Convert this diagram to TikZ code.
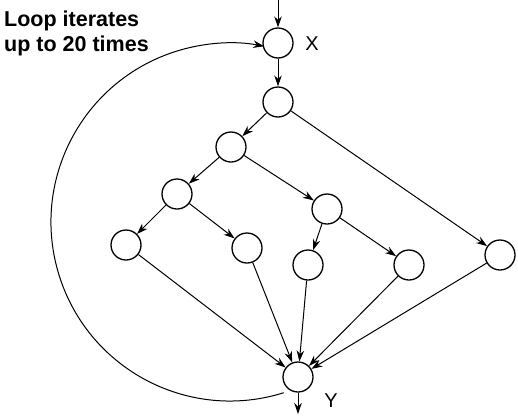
\documentclass[tikz,border=0pt]{standalone}
\usepackage{fontspec}
\setmainfont{Liberation Sans}
\usetikzlibrary{arrows.meta}
\begin{document}
\begin{tikzpicture}[x=1pt,y=-1pt,
  blk/.style={circle,draw,line width=1.3pt,minimum size=30pt,inner sep=0pt},
  edge/.style={line width=1pt,-{Stealth[length=11pt,width=7.5pt]}},
  lbl/.style={font=\fontsize{20}{24}\selectfont,inner sep=0pt},
  note/.style={font=\fontsize{21.5}{24}\selectfont\bfseries,inner sep=0pt,anchor=base west}]
\useasboundingbox (0,0) rectangle (518,418);
\node[blk] (X) at (278,43) {};
\node[blk] (n1) at (278,102) {};
\node[blk] (n2) at (231,147) {};
\node[blk] (n3) at (177,194) {};
\node[blk] (n4) at (327,209) {};
\node[blk] (n5) at (126,245) {};
\node[blk] (n6) at (247,248) {};
\node[blk] (n7) at (308,265) {};
\node[blk] (n8) at (409,265) {};
\node[blk] (n9) at (500,255) {};
\node[blk] (Y) at (298,377) {};
\node[lbl] (xl) at (312,44) {X};
\node[lbl] (yl) at (331,401) {Y};
\node[note] (t1) at (4,26.7) {Loop iterates};
\node[note] (t2) at (4,51.7) {up to 20 times};
\coordinate (in) at (278,0);
\coordinate (out) at (298,414);
\coordinate (ls) at (283.8,392.7);
\draw[edge] (in) -- (X);
\draw[edge] (X) -- (n1);
\draw[edge] (n1) -- (n2);
\draw[edge] (n1) -- (n9);
\draw[edge] (n2) -- (n3);
\draw[edge] (n2) -- (n4);
\draw[edge] (n3) -- (n5);
\draw[edge] (n3) -- (n6);
\draw[edge] (n4) -- (n7);
\draw[edge] (n4) -- (n8);
\draw[edge] (n5) -- (Y);
\draw[edge] (n6) -- (Y);
\draw[edge] (n7) -- (Y);
\draw[edge] (n8) -- (Y);
\draw[edge] (n9) -- (Y);
\draw[edge] (Y) -- (out);
\draw[edge] (ls) arc[start angle=72.5,end angle=281,radius=179];
\end{tikzpicture}
\end{document}
